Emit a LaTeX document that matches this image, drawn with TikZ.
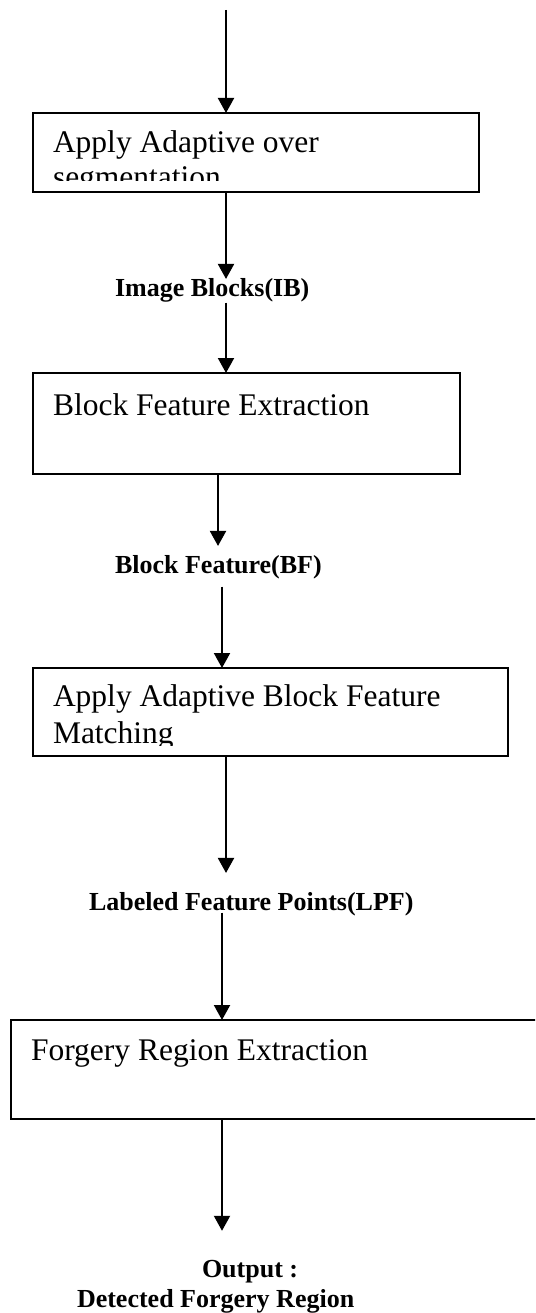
\documentclass[tikz,border=0pt]{standalone}
\usepackage{fontspec}
\setmainfont{Liberation Serif}
\usetikzlibrary{arrows.meta}
\begin{document}
\begin{tikzpicture}[x=1pt,y=-1pt,
  box/.style={draw, line width=1.5pt, inner sep=0pt, outer sep=0pt, anchor=north west},
  boxtext/.style={anchor=base west, inner sep=0pt, outer sep=0pt, font=\fontsize{31.5}{37}\selectfont},
  lbl/.style={anchor=base west, inner sep=0pt, outer sep=0pt, font=\fontsize{26}{30}\selectfont\bfseries},
  flow/.style={line width=2pt, -{Triangle[length=15pt,width=16pt]}}]
\clip (0,0) rectangle (535,1313);
\fill[white] (0,0) rectangle (535,1313);

% column coordinates
\coordinate (c226) at (226,0);
\coordinate (c222) at (222,0);
\coordinate (c218) at (218,0);
\coordinate (start) at (226,10);

% boxes
\node[box, minimum width=446pt, minimum height=79pt]  (b1) at (33,113) {};
\node[box, minimum width=427pt, minimum height=101pt] (b2) at (33,373) {};
\node[box, minimum width=475pt, minimum height=88pt]  (b3) at (33,668) {};
\node[box, minimum width=560pt, minimum height=99pt]  (b4) at (11,1020) {};

% box texts
\begin{scope}
  \clip (b1.north west) rectangle ([yshift=11pt]b1.south east);
  \node[boxtext] (t1a) at (53,153) {Apply Adaptive over};
  \node[boxtext] (t1b) at (53,188) {segmentation};
\end{scope}
\node[boxtext] (t2) at (53,415) {Block Feature Extraction};
\begin{scope}
  \clip (b3.north west) rectangle ([yshift=11pt]b3.south east);
  \node[boxtext] (t3a) at (53,706) {Apply Adaptive Block Feature};
  \node[boxtext] (t3b) at (53,743) {Matching};
\end{scope}
\node[boxtext] (t4) at (31,1060) {Forgery Region Extraction};

% labels
\node[lbl] (l1) at (115,297) {Image Blocks(IB)};
\node[lbl] (l2) at (115,573) {Block Feature(BF)};
\node[lbl] (l3) at (89,910) {Labeled Feature Points(LPF)};
\node[lbl] (l4) at (202,1277) {Output :};
\node[lbl] (l5) at (77,1307) {Detected Forgery Region};

% connectors
\draw[flow] (start) -- (b1.north -| start);
\draw[flow] (b1.south -| c226) -- (l1.north -| c226);
\draw[flow] (l1.south -| c226) -- (b2.north -| c226);
\draw[flow, shorten >=9pt] (b2.south -| c218) -- (l2.north -| c218);
\draw[flow, shorten <=8pt] (l2.south -| c222) -- (b3.north -| c222);
\draw[flow, shorten >=19pt] (b3.south -| c226) -- (l3.north -| c226);
\draw[flow, shorten <=-3pt] (l3.south -| c222) -- (b4.north -| c222);
\draw[flow, shorten >=29pt] (b4.south -| c222) -- (l4.north -| c222);
\end{tikzpicture}
\end{document}
